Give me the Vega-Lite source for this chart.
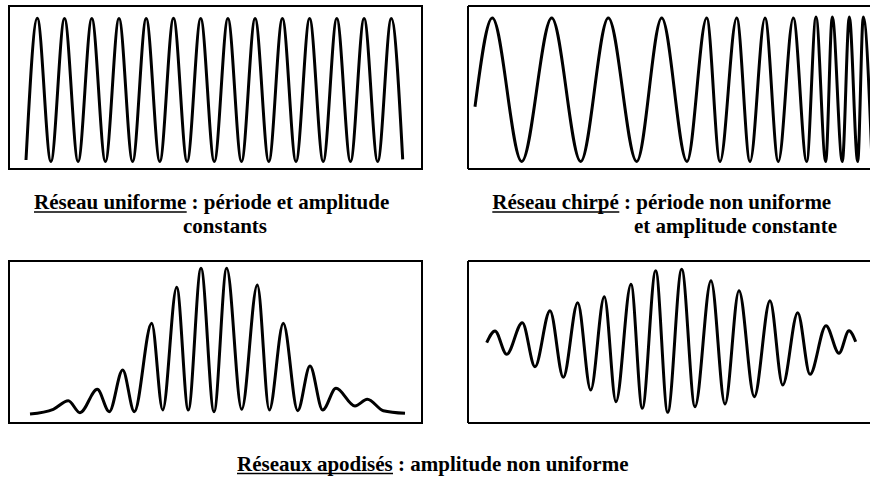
{
  "$schema": "https://vega.github.io/schema/vega-lite/v6.json",
  "padding": {"left": 8, "top": 5, "right": 0, "bottom": 0},
  "bounds": "flush",
  "columns": 2,
  "spacing": {"row": 0, "column": 46},
  "background": "white",
  "config": {"view": {"stroke": null}},
  "datasets": {
    "uniforme": [
      {"x": 17, "y": 9}, {"x": 28.3, "y": 150.7}, {"x": 41.9, "y": 7.5}, {"x": 55.5, "y": 150.5}, {"x": 69.1, "y": 7.5},
      {"x": 82.8, "y": 150.5}, {"x": 96.4, "y": 7.5}, {"x": 110.0, "y": 150.5}, {"x": 123.6, "y": 7.5}, {"x": 137.2, "y": 150.5},
      {"x": 150.8, "y": 7.5}, {"x": 164.5, "y": 150.7}, {"x": 178.1, "y": 7.5}, {"x": 191.7, "y": 150.5}, {"x": 205.3, "y": 7.5},
      {"x": 218.9, "y": 150.5}, {"x": 232.5, "y": 7.5}, {"x": 246.1, "y": 150.5}, {"x": 259.8, "y": 7.5}, {"x": 273.4, "y": 150.5},
      {"x": 287.0, "y": 7.5}, {"x": 300.6, "y": 150.5}, {"x": 314.2, "y": 7.5}, {"x": 327.8, "y": 150.5}, {"x": 341.5, "y": 7.5},
      {"x": 355.1, "y": 150.5}, {"x": 368.7, "y": 7.5}, {"x": 382.3, "y": 150.5}, {"x": 393.7, "y": 9.7}
    ],
    "chirpe": [
      {"x": 7, "y": 62.3}, {"x": 24.3, "y": 151}, {"x": 53.7, "y": 7.5}, {"x": 83.7, "y": 151}, {"x": 112.7, "y": 7.5},
      {"x": 140.3, "y": 151}, {"x": 168.7, "y": 7.5}, {"x": 193.7, "y": 151}, {"x": 219, "y": 7.5}, {"x": 238.7, "y": 151},
      {"x": 252, "y": 7.5}, {"x": 268.7, "y": 151}, {"x": 282, "y": 7.5}, {"x": 297, "y": 151}, {"x": 310.3, "y": 7.5},
      {"x": 325.3, "y": 151}, {"x": 338.7, "y": 7.5}, {"x": 348, "y": 152}, {"x": 357.7, "y": 7.5}, {"x": 364.3, "y": 152},
      {"x": 374.3, "y": 7.5}, {"x": 381.3, "y": 152}, {"x": 389.7, "y": 7.5}, {"x": 395.3, "y": 152}, {"x": 404, "y": 7.5}
    ],
    "apodise_gauss": [
      {"x": 21, "y": 9}, {"x": 44.3, "y": 13.7}, {"x": 59.3, "y": 22.3}, {"x": 71, "y": 10.3}, {"x": 88.3, "y": 33.7},
      {"x": 100.3, "y": 11.3}, {"x": 113.7, "y": 53}, {"x": 125.3, "y": 11.3}, {"x": 142.7, "y": 99.7}, {"x": 153.7, "y": 13},
      {"x": 167.7, "y": 135.7}, {"x": 179.3, "y": 13}, {"x": 192, "y": 154.7}, {"x": 205, "y": 11.3}, {"x": 217.7, "y": 154.7},
      {"x": 232.7, "y": 13.7}, {"x": 248.3, "y": 138}, {"x": 260.3, "y": 13}, {"x": 274.3, "y": 99.7}, {"x": 288.7, "y": 12.3},
      {"x": 301, "y": 57}, {"x": 313.7, "y": 13}, {"x": 327, "y": 34.7}, {"x": 346, "y": 17}, {"x": 358.3, "y": 23.7},
      {"x": 374.3, "y": 12.3}, {"x": 396, "y": 9.7}
    ],
    "apodise_sym": [
      {"x": 18.7, "y": 80.3}, {"x": 27, "y": 92}, {"x": 38.7, "y": 68.7}, {"x": 54.3, "y": 100.3}, {"x": 67, "y": 56.3},
      {"x": 82, "y": 112.3}, {"x": 95.3, "y": 45.7}, {"x": 109.7, "y": 120.3}, {"x": 122.7, "y": 33}, {"x": 136.3, "y": 126.3},
      {"x": 148, "y": 21.3}, {"x": 163, "y": 138.7}, {"x": 174.3, "y": 14.7}, {"x": 187.7, "y": 152.3}, {"x": 199.7, "y": 10.7},
      {"x": 213.7, "y": 153.7}, {"x": 227, "y": 16.3}, {"x": 243, "y": 142.3}, {"x": 257, "y": 19}, {"x": 271, "y": 132.3},
      {"x": 286.3, "y": 26.3}, {"x": 302, "y": 122.3}, {"x": 314.7, "y": 38}, {"x": 329.7, "y": 110.3}, {"x": 342, "y": 48.7},
      {"x": 358, "y": 97.3}, {"x": 371, "y": 69.7}, {"x": 381, "y": 92.3}, {"x": 387.7, "y": 81.3}
    ],
    "caption_left": [
      {"text": "Réseau uniforme : période et amplitude", "x": 25, "y": 40},
      {"text": "constants", "x": 174, "y": 64}
    ],
    "underline_left": [
      {"x": 25, "x2": 177.7, "y": 43}
    ],
    "caption_right": [
      {"text": "Réseau chirpé : période non uniforme", "x": 24.3, "y": 40},
      {"text": "et amplitude constante", "x": 166, "y": 64}
    ],
    "underline_right": [
      {"x": 24.3, "x2": 151.3, "y": 43}
    ],
    "caption_bottom": [
      {"text": "Réseaux apodisés : amplitude non uniforme", "x": 228, "y": 47.5}
    ],
    "underline_bottom": [
      {"x": 228, "x2": 384, "y": 50.5}
    ]
  },
  "concat": [
    {
      "width": 413, "height": 163,
      "view": {"stroke": "black", "strokeWidth": 2},
      "data": {"name": "uniforme"},
      "mark": {"type": "line", "interpolate": "monotone", "color": "black", "strokeWidth": 3},
      "encoding": {
        "x": {"field": "x", "type": "quantitative", "axis": null, "scale": {"domain": [0, 413], "nice": false, "zero": false}},
        "y": {"field": "y", "type": "quantitative", "axis": null, "scale": {"domain": [0, 163], "nice": false, "zero": false}}
      }
    },
    {
      "width": 402, "height": 163,
      "layer": [
        {
          "data": {"name": "chirpe"},
          "mark": {"type": "line", "interpolate": "monotone", "color": "black", "strokeWidth": 3, "clip": true},
          "encoding": {
            "x": {"field": "x", "type": "quantitative", "axis": null, "scale": {"domain": [0, 402], "nice": false, "zero": false}},
            "y": {"field": "y", "type": "quantitative", "axis": null, "scale": {"domain": [0, 163], "nice": false, "zero": false}}
          }
        },
        {
          "data": {"values": [{}]},
          "mark": {"type": "rule", "color": "black", "strokeWidth": 2},
          "encoding": {"x": {"datum": 0, "type": "quantitative"}, "y": {"datum": 0, "type": "quantitative"}, "y2": {"datum": 163}}
        },
        {
          "data": {"values": [{}]},
          "mark": {"type": "rule", "color": "black", "strokeWidth": 2},
          "encoding": {"x": {"datum": 0, "type": "quantitative"}, "x2": {"datum": 402}, "y": {"datum": 163, "type": "quantitative"}}
        },
        {
          "data": {"values": [{}]},
          "mark": {"type": "rule", "color": "black", "strokeWidth": 2},
          "encoding": {"x": {"datum": 0, "type": "quantitative"}, "x2": {"datum": 402}, "y": {"datum": 0, "type": "quantitative"}}
        }
      ]
    },
    {
      "width": 413, "height": 92,
      "layer": [
        {
          "data": {"name": "caption_left"},
          "mark": {"type": "text", "font": "Liberation Serif", "fontWeight": "bold", "fontSize": 21, "align": "left", "baseline": "alphabetic", "color": "black"},
          "encoding": {
            "x": {"field": "x", "type": "quantitative", "axis": null, "scale": {"domain": [0, 413], "nice": false, "zero": false}},
            "y": {"field": "y", "type": "quantitative", "axis": null, "scale": {"domain": [0, 92], "nice": false, "zero": false, "reverse": true}},
            "text": {"field": "text"}
          }
        },
        {
          "data": {"name": "underline_left"},
          "mark": {"type": "rule", "color": "black", "strokeWidth": 1.5},
          "encoding": {
            "x": {"field": "x", "type": "quantitative"},
            "x2": {"field": "x2"},
            "y": {"field": "y", "type": "quantitative"}
          }
        }
      ]
    },
    {
      "width": 402, "height": 92,
      "layer": [
        {
          "data": {"name": "caption_right"},
          "mark": {"type": "text", "font": "Liberation Serif", "fontWeight": "bold", "fontSize": 21, "align": "left", "baseline": "alphabetic", "color": "black"},
          "encoding": {
            "x": {"field": "x", "type": "quantitative", "axis": null, "scale": {"domain": [0, 402], "nice": false, "zero": false}},
            "y": {"field": "y", "type": "quantitative", "axis": null, "scale": {"domain": [0, 92], "nice": false, "zero": false, "reverse": true}},
            "text": {"field": "text"}
          }
        },
        {
          "data": {"name": "underline_right"},
          "mark": {"type": "rule", "color": "black", "strokeWidth": 1.5},
          "encoding": {
            "x": {"field": "x", "type": "quantitative"},
            "x2": {"field": "x2"},
            "y": {"field": "y", "type": "quantitative"}
          }
        }
      ]
    },
    {
      "width": 413, "height": 162,
      "view": {"stroke": "black", "strokeWidth": 2},
      "data": {"name": "apodise_gauss"},
      "mark": {"type": "line", "interpolate": "monotone", "color": "black", "strokeWidth": 3},
      "encoding": {
        "x": {"field": "x", "type": "quantitative", "axis": null, "scale": {"domain": [0, 413], "nice": false, "zero": false}},
        "y": {"field": "y", "type": "quantitative", "axis": null, "scale": {"domain": [0, 162], "nice": false, "zero": false}}
      }
    },
    {
      "width": 402, "height": 162,
      "layer": [
        {
          "data": {"name": "apodise_sym"},
          "mark": {"type": "line", "interpolate": "monotone", "color": "black", "strokeWidth": 3, "clip": true},
          "encoding": {
            "x": {"field": "x", "type": "quantitative", "axis": null, "scale": {"domain": [0, 402], "nice": false, "zero": false}},
            "y": {"field": "y", "type": "quantitative", "axis": null, "scale": {"domain": [0, 162], "nice": false, "zero": false}}
          }
        },
        {
          "data": {"values": [{}]},
          "mark": {"type": "rule", "color": "black", "strokeWidth": 2},
          "encoding": {"x": {"datum": 0, "type": "quantitative"}, "y": {"datum": 0, "type": "quantitative"}, "y2": {"datum": 162}}
        },
        {
          "data": {"values": [{}]},
          "mark": {"type": "rule", "color": "black", "strokeWidth": 2},
          "encoding": {"x": {"datum": 0, "type": "quantitative"}, "x2": {"datum": 402}, "y": {"datum": 162, "type": "quantitative"}}
        },
        {
          "data": {"values": [{}]},
          "mark": {"type": "rule", "color": "black", "strokeWidth": 2},
          "encoding": {"x": {"datum": 0, "type": "quantitative"}, "x2": {"datum": 402}, "y": {"datum": 0, "type": "quantitative"}}
        }
      ]
    },
    {
      "width": 413, "height": 56,
      "layer": [
        {
          "data": {"name": "caption_bottom"},
          "mark": {"type": "text", "font": "Liberation Serif", "fontWeight": "bold", "fontSize": 21, "align": "left", "baseline": "alphabetic", "color": "black"},
          "encoding": {
            "x": {"field": "x", "type": "quantitative", "axis": null, "scale": {"domain": [0, 413], "nice": false, "zero": false}},
            "y": {"field": "y", "type": "quantitative", "axis": null, "scale": {"domain": [0, 56], "nice": false, "zero": false, "reverse": true}},
            "text": {"field": "text"}
          }
        },
        {
          "data": {"name": "underline_bottom"},
          "mark": {"type": "rule", "color": "black", "strokeWidth": 1.5},
          "encoding": {
            "x": {"field": "x", "type": "quantitative"},
            "x2": {"field": "x2"},
            "y": {"field": "y", "type": "quantitative"}
          }
        }
      ]
    }
  ],
  "resolve": {"scale": {"x": "independent", "y": "independent"}}
}
